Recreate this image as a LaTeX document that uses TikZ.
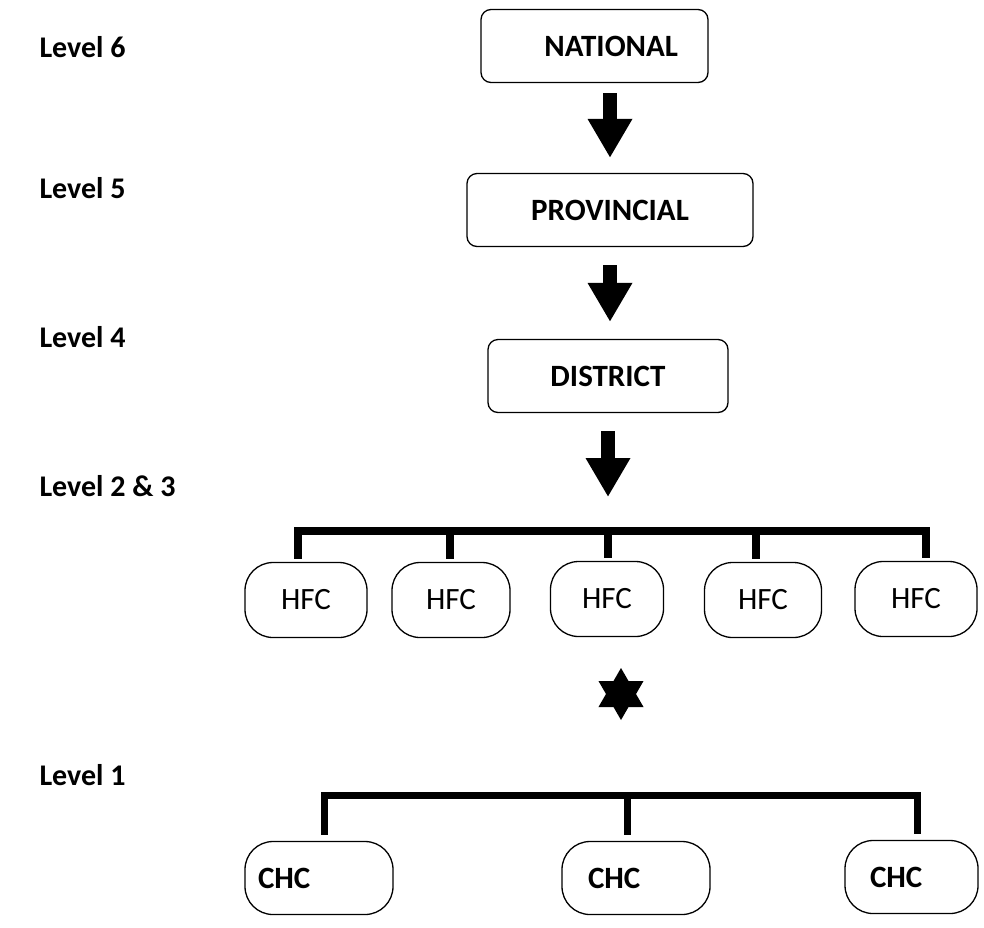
\documentclass[tikz,border=0pt]{standalone}
\usepackage{fontspec}
\setmainfont{Carlito}
\usetikzlibrary{arrows.meta,positioning,shapes.geometric}

\begin{document}
\begin{tikzpicture}[x=1pt, y=-1pt,
    box/.style={rectangle, draw, line width=1.3pt, rounded corners=10pt, minimum height=73pt, font=\fontsize{31}{36}\selectfont\bfseries},
    pill/.style={rectangle, draw, line width=1.3pt, rounded corners=28pt, minimum height=75pt, font=\fontsize{31}{36}\selectfont},
    chc/.style={rectangle, draw, line width=1.3pt, rounded corners=28pt, minimum height=73pt, align=left, font=\fontsize{31}{36}\selectfont\bfseries},
    level/.style={anchor=west, font=\fontsize{30}{35}\selectfont\bfseries},
    fatarrow/.style={line width=14pt, -{Triangle[width=42pt, length=39pt]}},
    bus/.style={line width=8pt, line join=miter}
]
\useasboundingbox (0,0) rectangle (984,927);

% Level labels
\node[level] (l6) at (36,47) {Level 6};
\node[level] (l5) at (36,188) {Level 5};
\node[level] (l4) at (36,337) {Level 4};
\node[level] (l23) at (36,486) {Level 2 \& 3};
\node[level] (l1) at (36,775) {Level 1};

% Nodes
\node[box, text width=167pt, inner xsep=30pt, align=right] (national) at (594.5,46) {NATIONAL};
\node[box, minimum width=286pt] (provincial) at (610,210) {PROVINCIAL};
\node[box, minimum width=240pt] (district) at (608,376) {DISTRICT};

\node[pill, minimum width=122pt] (hfc1) at (306,600) {HFC};
\node[pill, minimum width=118pt] (hfc2) at (451,600) {HFC};
\node[pill, minimum width=113pt] (hfc3) at (607,599) {HFC};
\node[pill, minimum width=117pt] (hfc4) at (763,600) {HFC};
\node[pill, minimum width=122pt] (hfc5) at (916,599) {HFC};

\node[star, star points=6, star point ratio=1.732, fill, minimum size=52pt, inner sep=0pt] (link) at (621,694) {};

\node[chc, text width=122pt, inner xsep=13pt] (chc1) at (319,878) {CHC};
\node[chc, text width=96pt, inner xsep=26pt] (chc2) at (636,878) {CHC};
\node[chc, text width=83pt, inner xsep=25pt] (chc3) at (911.5,877) {CHC};

\coordinate (hbus) at (608,531);
\coordinate (cbus) at (627,795);

% Arrows
\draw[fatarrow, shorten <=10pt, shorten >=15pt] (national.south -| provincial.north) -- (provincial.north);
\draw[fatarrow, shorten <=18pt, shorten >=17pt] (provincial.south) -- (provincial.south |- district.north);
\draw[fatarrow, shorten <=18pt, shorten >=34pt] (district.south) -- (district.south |- hbus);

% Bus lines
\draw[bus] ([xshift=-8pt,yshift=3pt]hfc1.north) |- ([xshift=10pt]hfc5.north |- hbus) -- ([xshift=10pt,yshift=3pt]hfc5.north);
\foreach \n/\dx in {hfc2/-1, hfc3/1, hfc4/-7}
    \draw[bus] ([xshift=\dx pt,yshift=3pt]\n.north) -- ([xshift=\dx pt]\n.north |- hbus);

\draw[bus, line width=7pt] ([xshift=5pt,yshift=6pt]chc1.north) |- ([xshift=5.5pt]chc3.north |- cbus) -- ([xshift=5.5pt,yshift=6pt]chc3.north);
\draw[bus, line width=7pt] ([xshift=-9pt,yshift=6pt]chc2.north) -- (cbus);

\end{tikzpicture}
\end{document}
